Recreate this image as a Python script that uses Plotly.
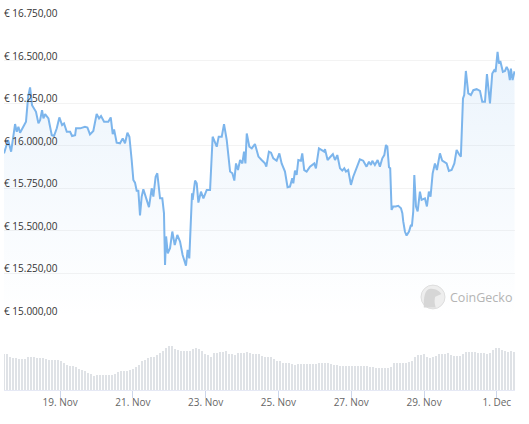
import numpy as np
import pandas as pd
import plotly.graph_objects as go

START = pd.Timestamp("2022-11-17")

# hours after START, and the price in EUR at that time
PRICE_HOURS = [
    11.0,13.7,15.7,18.3,19.4,20.5,21.6,23.8,25.5,26.9,28.2,29.5,32.1,33.7,34.8,36.1,37.0,38.1,40.3,42.5,
    44.0,45.8,47.5,49.3,50.6,52.4,54.6,55.9,57.9,58.5,61.2,64.4,66.0,67.7,69.9,72.1,73.7,75.0,77.0,79.8,
    81.4,82.7,83.6,85.3,87.5,89.3,90.8,92.4,93.7,95.2,96.3,97.4,98.5,99.6,100.7,101.8,102.9,105.1,106.6,108.4,
    109.5,111.0,112.1,113.9,115.4,116.5,117.2,117.9,119.0,120.5,122.0,123.6,125.3,127.1,128.8,131.0,132.1,133.2,135.0,135.4,
    137.0,138.1,139.2,140.9,142.5,144.7,146.9,148.6,151.3,152.6,154.6,156.1,157.9,160.1,161.6,162.9,164.0,165.3,166.7,168.2,
    169.3,170.2,171.1,172.8,174.4,176.5,178.8,180.9,183.1,184.0,185.7,187.1,188.6,190.8,192.6,194.1,196.3,198.0,199.6,201.1,
    201.8,202.9,204.0,205.1,206.8,207.7,209.0,210.6,212.8,215.6,216.7,218.7,220.5,222.2,222.7,224.4,226.0,227.9,229.3,230.8,
    232.6,234.1,235.4,236.5,238.0,239.8,241.3,243.5,245.7,247.9,250.1,251.7,253.0,253.9,255.6,257.4,258.9,260.5,261.8,262.9,
    263.8,264.9,265.7,266.6,267.7,269.3,271.0,272.8,273.7,274.3,275.4,276.5,278.1,279.4,280.0,280.9,281.6,282.7,283.8,285.3,
    286.4,288.6,289.9,291.2,292.3,293.7,295.2,296.5,298.5,300.0,302.9,304.4,306.2,308.0,309.5,311.0,312.3,313.7,314.5,315.6,
    317.2,318.9,320.5,322.7,324.9,326.4,328.2,329.5,330.4,331.5,333.0,334.3,335.2,336.5,337.4,338.3,340.0,341.4,342.5,343.6,
    344.6,345.3,346.4,347.7,
]
PRICES = [
    15955,16033,15965,16127,16082,16111,16076,16111,16141,16287,16342,16238,16199,16131,16150,16209,16160,16186,16160,16062,
    16057,16102,16166,16121,16131,16082,16082,16057,16062,16102,16102,16111,16107,16066,16086,16186,16160,16174,16141,16141,
    16166,16068,16096,16018,16014,16043,16014,16076,16053,15916,15799,15783,15736,15736,15591,15701,15744,15682,15639,15750,
    15701,15818,15838,15691,15691,15604,15299,15467,15368,15398,15496,15417,15476,15437,15358,15295,15388,15338,15721,15682,
    15795,15779,15666,15730,15691,15740,15740,16053,15994,16053,16053,16127,16033,15848,15838,15795,15896,15857,15916,15896,
    15965,15896,16072,15994,15984,16010,15936,15916,15896,15877,15965,15959,15926,15912,15955,15896,15848,15756,15760,15809,
    15779,15854,15828,15916,15912,15955,15857,15848,15877,15896,15867,15984,15975,15965,15980,15916,15932,15951,15916,15945,
    15867,15854,15867,15848,15857,15770,15818,15867,15920,15912,15877,15906,15887,15912,15887,15916,15877,15926,15945,16004,
    15994,15873,15867,15623,15643,15643,15647,15633,15604,15555,15496,15472,15496,15535,15526,15614,15828,15643,15614,15730,
    15682,15691,15643,15730,15701,15838,15896,15857,15955,15912,15896,15852,15857,15896,15975,15951,15936,16277,16297,16439,
    16307,16297,16326,16332,16322,16258,16258,16420,16346,16248,16424,16443,16434,16551,16482,16498,16434,16439,16463,16443,
    16385,16453,16385,16437,
]

# traded volume, one bar per period (arbitrary units)
VOLUMES = [
    108,108,100,96,95,94,92,93,99,100,98,96,96,95,94,91,90,90,90,88,80,74,72,72,70,64,60,56,51,48,42,44,46,46,46,45,44,47,55,57,
    58,58,59,64,69,76,88,91,95,99,98,106,112,118,127,132,133,124,120,118,118,116,116,124,126,122,116,107,104,98,111,111,113,115,116,109,107,105,111,111,
    111,113,111,109,109,108,102,100,99,99,92,87,86,82,81,81,79,76,78,78,78,78,78,78,79,81,81,81,80,78,75,74,73,72,72,73,73,72,72,72,
    72,71,70,69,67,66,66,65,65,69,80,81,81,81,81,83,88,100,104,106,108,100,96,100,103,107,108,109,111,104,101,101,102,108,115,115,114,114,111,110,
    111,108,112,120,126,126,121,116,115,116,114,
]
VOLUME_START_HOUR = 11.0
VOLUME_PERIOD_HOURS = 1.978

PRICE_TICKS = [15000, 15250, 15500, 15750, 16000, 16250, 16500, 16750]
PRICE_LABELS = ["€ 15.000,00", "€ 15.250,00", "€ 15.500,00", "€ 15.750,00",
                "€ 16.000,00", "€ 16.250,00", "€ 16.500,00", "€ 16.750,00"]
DATE_TICK_HOURS = [48, 96, 144, 192, 240, 288, 336]
DATE_LABELS = ["19. Nov", "21. Nov", "23. Nov", "25. Nov", "27. Nov", "29. Nov", "1. Dec"]
X_RANGE_HOURS = [11.0, 348.0]
FLOOR_PRICE = 15000


def when(hours):
    return START + pd.to_timedelta(np.asarray(hours, dtype=float), unit="h")


vol_hours = VOLUME_START_HOUR + VOLUME_PERIOD_HOURS * np.arange(len(VOLUMES))
price_x = when(PRICE_HOURS)

fig = go.Figure()
fig.add_trace(go.Bar(
    x=when(vol_hours), y=VOLUMES, yaxis="y2",
    width=1.35 * 3600 * 1000, marker=dict(color="#dfe2e6", line=dict(width=0)),
    showlegend=False, hoverinfo="skip",
))
fig.add_trace(go.Scatter(
    x=price_x, y=[FLOOR_PRICE] * len(PRICES), mode="lines",
    line=dict(width=0, color="rgba(0,0,0,0)"), showlegend=False, hoverinfo="skip",
))
fig.add_trace(go.Scatter(
    x=price_x, y=PRICES, mode="lines", fill="tonexty",
    line=dict(color="#7cb5ec", width=2),
    fillgradient=dict(type="vertical", colorscale=[
        [0, "rgba(124,181,236,0.0)"], [1, "rgba(124,181,236,0.15)"]]),
    showlegend=False,
))

# CoinGecko watermark
logo = [
    dict(type="circle", xref="paper", yref="paper",
         x0=0.816, x1=0.863, y0=0.218, y1=0.282,
         fillcolor="#eeeeee", line=dict(color="#dedede", width=1), layer="above"),
    dict(type="path", xref="paper", yref="paper", layer="above",
         path="M 0.8215 0.222 C 0.821 0.251 0.824 0.270 0.834 0.272 "
              "C 0.844 0.274 0.853 0.265 0.856 0.258 L 0.844 0.251 "
              "C 0.841 0.237 0.844 0.228 0.845 0.222 Z",
         fillcolor="#d6d6d6", line=dict(width=0)),
]

price_annotations = [
    dict(text=label, xref="paper", yref="y", x=0, y=tick, xanchor="left", yanchor="middle",
         yshift=5, showarrow=False, borderpad=0, borderwidth=0,
         font=dict(family="Open Sans", size=10, color="#333333"))
    for tick, label in zip(PRICE_TICKS, PRICE_LABELS)
]

fig.update_layout(
    width=529, height=424,
    margin=dict(l=4, r=14, t=18, b=34),
    paper_bgcolor="white", plot_bgcolor="white",
    font=dict(family="Open Sans", size=10, color="#333333"),
    showlegend=False, bargap=0, shapes=logo,
    xaxis=dict(
        type="date", anchor="y2", domain=[0, 1],
        range=[when(X_RANGE_HOURS[0]), when(X_RANGE_HOURS[1])],
        tickmode="array", tickvals=when(DATE_TICK_HOURS), ticktext=DATE_LABELS,
        ticks="outside", ticklen=7, tickwidth=1, tickcolor="#ccd6eb",
        ticklabelstandoff=-4,
        tickfont=dict(size=10, color="#666666"),
        showgrid=False, showline=True, linecolor="#e6e9f5", linewidth=1, zeroline=False,
    ),
    yaxis=dict(
        domain=[0.199, 1], range=[15000, 16750], anchor="x",
        tickmode="array", tickvals=PRICE_TICKS, showticklabels=False, ticks="",
        showgrid=True, gridcolor="#f3f3f3", gridwidth=1,
        showline=False, zeroline=False,
    ),
    yaxis2=dict(
        domain=[0, 0.161], range=[0, 180], anchor="x",
        showticklabels=False, ticks="", showgrid=False, zeroline=False, showline=False,
    ),
    annotations=price_annotations + [dict(
        text="CoinGecko", xref="paper", yref="paper", x=0.871, y=0.25,
        xanchor="left", yanchor="middle", showarrow=False, borderpad=0,
        font=dict(family="Open Sans", size=12.5, color="#b4b4b4"),
    )],
)

fig.write_html("out.html", config=dict(displayModeBar=False),
               post_script="document.body.style.margin='0';document.body.style.overflow='hidden';")
